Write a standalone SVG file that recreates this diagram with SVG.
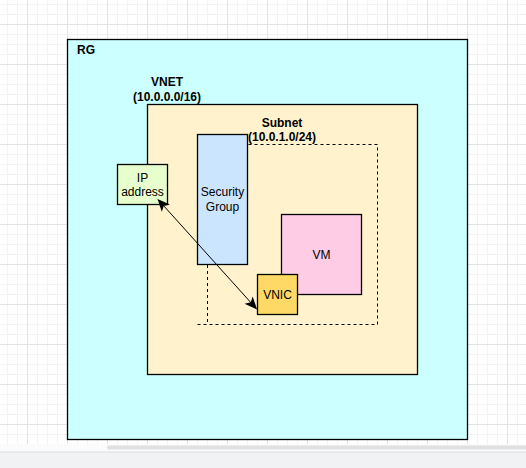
<svg xmlns="http://www.w3.org/2000/svg" width="526" height="468" viewBox="0 0 526 468">
  <defs>
    <pattern id="minor" x="7" y="4" width="10" height="10" patternUnits="userSpaceOnUse">
      <path d="M0.5,0 V10 M0,0.5 H10" stroke="#f3f3f3" stroke-width="1" fill="none"/>
    </pattern>
    <pattern id="major" x="27" y="24" width="40" height="40" patternUnits="userSpaceOnUse">
      <path d="M0.5,0 V40 M0,0.5 H40" stroke="#e3e3e3" stroke-width="1" fill="none"/>
    </pattern>
    <marker id="arrow" markerUnits="userSpaceOnUse" markerWidth="12" markerHeight="12" viewBox="-9 -5 10 10" refX="0" refY="0" orient="auto-start-reverse" overflow="visible">
      <path d="M0,0 L-8,-3.5 L-6,0 L-8,3.5 Z" fill="#000" stroke="#000" stroke-width="1" stroke-linejoin="miter"/>
    </marker>
    <style>
      .box { stroke: #000; stroke-width: 1.3; }
      .lbl { font-family: "Liberation Sans", Arial, sans-serif; font-size: 12px; fill: #000; }
      .bold { font-weight: bold; }
      .mid { text-anchor: middle; }
    </style>
  </defs>

  <g id="canvas">
    <rect x="0" y="0" width="526" height="468" fill="#ffffff"/>
    <rect x="0" y="0" width="526" height="444" fill="url(#minor)"/>
    <rect x="0" y="0" width="526" height="444" fill="url(#major)"/>
    <rect x="0" y="444" width="526" height="8" fill="#fbfbfb"/>
    <rect x="107" y="445.5" width="425" height="4" rx="2" fill="#e0e0e0"/>
    <rect x="0" y="452" width="526" height="16" fill="#f1f2f4"/>
    <line x1="0" y1="452" x2="526" y2="452" stroke="#dcdcdc" stroke-width="1"/>
  </g>

  <g id="rg">
    <rect class="box" x="67.5" y="39.5" width="400" height="400" fill="#ccffff"/>
    <text class="lbl bold" x="77" y="54">RG</text>
  </g>

  <g id="vnet">
    <rect class="box" x="147.5" y="104.5" width="270" height="270" fill="#fff2cc"/>
    <text class="lbl bold mid" x="167" y="86">VNET</text>
    <text class="lbl bold mid" x="167" y="100.5">(10.0.0.0/16)</text>
  </g>

  <g id="subnet">
    <path d="M207.5,265 V324.5 M197.5,324.5 H377.5 V144.5 H247.5" fill="none" stroke="#000" stroke-width="1" stroke-dasharray="3 3"/>
    <text class="lbl bold mid" x="282" y="126.5">Subnet</text>
    <text class="lbl bold mid" x="282" y="140.5">(10.0.1.0/24)</text>
  </g>

  <g id="security-group">
    <rect class="box" x="197.5" y="134.5" width="50" height="130" fill="#cce5ff"/>
    <text class="lbl mid" x="222.5" y="196">Security</text>
    <text class="lbl mid" x="222.5" y="210.5">Group</text>
  </g>

  <g id="ip-address">
    <rect class="box" x="117.5" y="164.5" width="50" height="40" fill="#e6ffcc"/>
    <text class="lbl mid" x="142.5" y="181.5">IP</text>
    <text class="lbl mid" x="142.5" y="196">address</text>
  </g>

  <g id="vm">
    <rect class="box" x="281.5" y="214.5" width="80" height="80" fill="#ffcce6"/>
    <text class="lbl mid" x="321.5" y="258.8">VM</text>
  </g>

  <g id="vnic">
    <rect class="box" x="257.5" y="274.5" width="40" height="40" fill="#ffd966"/>
    <text class="lbl mid" x="277.5" y="298.8">VNIC</text>
  </g>

  <g id="connectors">
    <line x1="158.5" y1="200" x2="256" y2="308.3" stroke="#000" stroke-width="1" marker-start="url(#arrow)" marker-end="url(#arrow)"/>
  </g>
</svg>
